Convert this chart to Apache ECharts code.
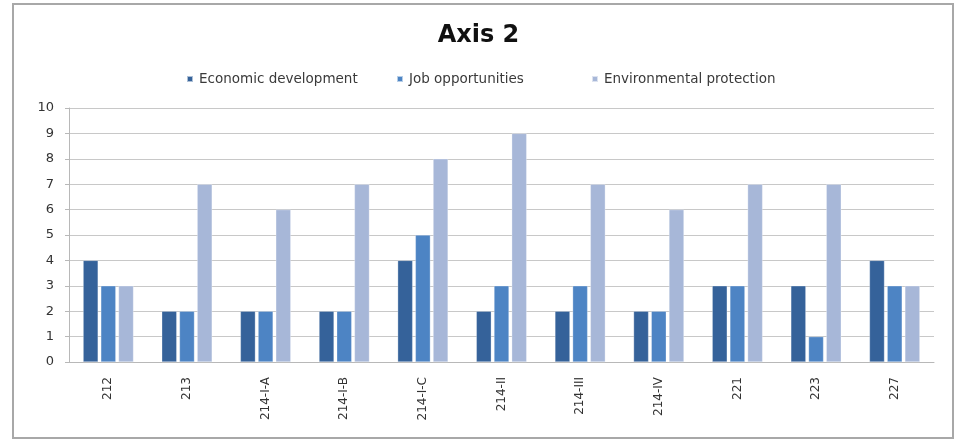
<!DOCTYPE html>
<html>
<head>
<meta charset="utf-8">
<script src="https://cdn.jsdelivr.net/npm/echarts@6/dist/echarts.min.js"></script>
<style>
  html, body { margin: 0; padding: 0; background: #ffffff; }
  #chart { width: 957px; height: 441px; }
</style>
</head>
<body>
<div id="chart"></div>
<script>
// Measures grouped by programme code
const categories = ['212', '213', '214-I-A', '214-I-B', '214-I-C', '214-II', '214-III', '214-IV', '221', '223', '227'];
const seriesNames = ['Economic development', 'Job opportunities', 'Environmental protection'];
const economicDevelopment = [4, 2, 2, 2, 4, 2, 2, 2, 3, 3, 4];
const jobOpportunities = [3, 2, 2, 2, 5, 3, 3, 2, 3, 1, 3];
const environmentalProtection = [3, 7, 6, 7, 8, 9, 7, 6, 7, 7, 3];
const yTicks = { min: 0, max: 10, interval: 1 };

const font = 'DejaVu Sans, Verdana, sans-serif';
const colors = ['#35629a', '#4d84c4', '#a7b7d8'];
const legendLeft = [181, 391, 586];

const chart = echarts.init(document.getElementById('chart'));

function barSeries(name, data, color) {
  return {
    name: name,
    type: 'bar',
    data: data,
    barWidth: 15,
    barGap: '18%',
    itemStyle: { color: color, borderColor: 'rgba(255,255,255,0.6)', borderWidth: 0.5 }
  };
}

// one legend block per series so each entry sits at its own spot
const legends = seriesNames.map((name, i) => ({
  top: 67,
  left: legendLeft[i],
  itemWidth: 6,
  itemHeight: 6,
  itemGap: 0,
  icon: 'rect',
  textStyle: { fontFamily: font, fontSize: 13.5, color: '#3a3a3a', padding: [0, 0, 0, 1] },
  data: [name]
}));

chart.setOption({
  animation: false,
  color: colors,
  graphic: [{
    type: 'rect',
    shape: { x: 13, y: 4, width: 940, height: 434 },
    style: { fill: '#ffffff', stroke: '#a8a8a8', lineWidth: 2 },
    z: -10
  }],
  title: {
    text: 'Axis 2',
    left: 'center',
    top: 19,
    textStyle: { fontFamily: font, fontSize: 24, fontWeight: 'bold', color: '#111111' }
  },
  legend: legends,
  grid: { left: 69, right: 23, top: 108, bottom: 79, containLabel: false },
  xAxis: {
    type: 'category',
    data: categories,
    axisLine: { lineStyle: { color: '#b8b8b8' } },
    axisTick: { show: false },
    axisLabel: { rotate: 90, fontFamily: font, fontSize: 12, color: '#333333', margin: 15 }
  },
  yAxis: {
    type: 'value',
    min: yTicks.min,
    max: yTicks.max,
    interval: yTicks.interval,
    axisLine: { show: true, lineStyle: { color: '#b8b8b8' } },
    axisTick: { show: true, length: 4, inside: false, lineStyle: { color: '#b8b8b8' } },
    axisLabel: { fontFamily: font, fontSize: 13, color: '#333333', margin: 15 },
    splitLine: { lineStyle: { color: '#c8c8c8', width: 1.2 } }
  },
  series: [
    barSeries(seriesNames[0], economicDevelopment, colors[0]),
    barSeries(seriesNames[1], jobOpportunities, colors[1]),
    barSeries(seriesNames[2], environmentalProtection, colors[2])
  ]
});
</script>
</body>
</html>
